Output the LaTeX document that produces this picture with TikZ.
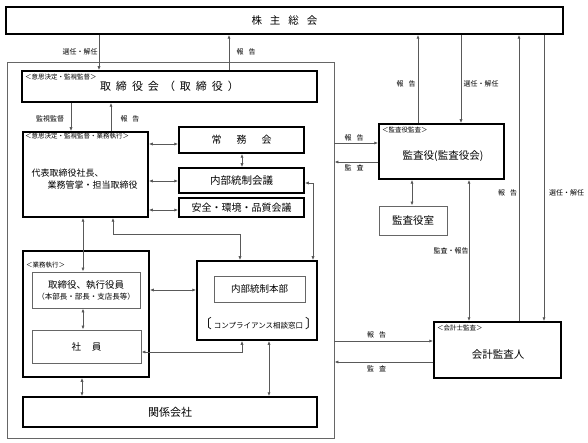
\documentclass[tikz,border=0pt]{standalone}
\usepackage{fontspec}
\setmainfont{Noto Sans CJK JP}
\usetikzlibrary{arrows.meta}

\begin{document}
\begin{tikzpicture}[x=1pt,y=-1pt,
    box/.style={draw=black,line width=1.5pt,inner sep=0pt},
    gbox/.style={draw=black!60,line width=0.9pt,inner sep=0pt},
    ln/.style={draw=black!65,line width=0.9pt},
    ar/.style={ln,-{Latex[length=4pt,width=3.2pt]}},
    dar/.style={ln,{Latex[length=4pt,width=3.2pt]}-{Latex[length=4pt,width=3.2pt]}},
    lbl/.style={font=\fontsize{7}{8}\selectfont,inner sep=0pt},
    tag/.style={font=\fontsize{6.5}{7}\selectfont,inner sep=0pt,anchor=west},
    txt/.style={font=\fontsize{10.5}{12}\selectfont,inner sep=0pt}]

    \useasboundingbox (0,0) rectangle (588,443);

    \node[box,minimum width=557pt,minimum height=27pt,font=\fontsize{10.5}{12}\selectfont] (GM) at (284.5,20.5) {株\hspace{8pt}主\hspace{8pt}総\hspace{8pt}会};
    \node[gbox,minimum width=327pt,minimum height=376pt] (CO) at (170.5,250) {};

    \node[box,minimum width=295pt,minimum height=31pt,font=\fontsize{11}{12}\selectfont] (BD) at (169.5,86.5) {取\hspace{5pt}締\hspace{5pt}役\hspace{5pt}会\hspace{5pt}（\hspace{5pt}取\hspace{5pt}締\hspace{5pt}役\hspace{5pt}）};
    \node[tag] (BDt) at (25,77) {＜意思決定・監視監督＞};

    \node[box,minimum width=125pt,minimum height=85pt] (RP) at (85.5,174.5) {};
    \node[tag] (RPt) at (25,136) {＜意思決定・監視監督・業務執行＞};
    \node[font=\fontsize{9}{12}\selectfont,align=left,inner sep=0pt] (RPx) at (84.5,179) {代表取締役社長、\\\hspace{16pt}業務管掌・担当取締役};

    \node[box,minimum width=125pt,minimum height=26pt,font=\fontsize{10}{12}\selectfont] (J) at (241.5,140) {常\hspace{15pt}務\hspace{15pt}会};
    \node[box,minimum width=125pt,minimum height=25pt,font=\fontsize{10.5}{12}\selectfont] (N) at (241.5,180.5) {内部統制会議};
    \node[box,minimum width=125pt,minimum height=19pt,font=\fontsize{10}{12}\selectfont] (S) at (241.5,207.5) {安全・環境・品質会議};

    \node[box,minimum width=126pt,minimum height=126pt] (E) at (86,314) {};
    \node[tag] (Et) at (26,265) {＜業務執行＞};
    \node[gbox,minimum width=108pt,minimum height=36pt,align=center,font=\fontsize{9.5}{11}\selectfont] (E1) at (86,290) {取締役、執行役員\\{\fontsize{7.5}{9}\selectfont （本部長・部長・支店長等）}};
    \node[gbox,minimum width=109pt,minimum height=33pt,font=\fontsize{9.5}{11}\selectfont] (E2) at (86.5,346.5) {社\hspace{11pt}員};

    \node[box,minimum width=120pt,minimum height=79pt] (H) at (257,300.5) {};
    \node[gbox,minimum width=91pt,minimum height=26pt,font=\fontsize{9.5}{11}\selectfont] (H1) at (259.5,289) {内部統制本部};
    \node[font=\fontsize{7.5}{9}\selectfont,inner sep=0pt] (H2) at (258.5,324) {{\fontsize{13}{13}\selectfont 〔}\hspace{2pt}コンプライアンス相談窓口\hspace{2pt}{\fontsize{13}{13}\selectfont 〕}};

    \node[box,minimum width=294pt,minimum height=30pt,font=\fontsize{11}{12}\selectfont] (K) at (170,412) {関係会社};

    \node[box,minimum width=125pt,minimum height=55pt] (A) at (441.5,151.5) {};
    \node[tag] (At) at (382,130) {＜監査役監査＞};
    \node[txt] (Ax) at (443,156) {監査役(監査役会)};
    \node[gbox,minimum width=68pt,minimum height=29pt,font=\fontsize{10.5}{12}\selectfont] (A1) at (413,220.5) {監査役室};

    \node[box,minimum width=127pt,minimum height=56pt] (C) at (497.5,350) {};
    \node[tag] (Ct) at (437,328) {＜会計士監査＞};
    \node[txt] (Cx) at (498,355) {会計監査人};

    \draw[ar] (GM.south -| 99,0) -- (BD.north -| 99,0);
    \draw[ar] (BD.north -| 229,0) -- (GM.south -| 229,0);
    \draw[ar] (BD.south -| 71,0) -- (RP.north -| 71,0);
    \draw[ar] (RP.north -| 111,0) -- (BD.south -| 111,0);

    \draw[dar] (RP.east |- 0,144) -- (J.west |- 0,144);
    \draw[dar] (RP.east |- 0,181) -- (N.west |- 0,181);
    \draw[dar] (RP.east |- 0,210) -- (S.west |- 0,210);
    \draw[dar] (J.south -| 242,0) -- (N.north -| 242,0);
    \draw[dar] (N.east |- 0,183) -| (H.north -| 313,0);
    \draw[dar] (RP.south -| 113,0) -- ++(0,17) -| (H.north -| 240,0);
    \draw[dar] (RP.south -| 83,0) -- (E1.north -| 83,0);
    \draw[dar] (E1.south -| 83,0) -- (E2.north -| 83,0);
    \draw[dar] (E.east |- 0,290) -- (H.west |- 0,290);
    \draw[dar] (E2.east |- 0,352) -| (H.south -| 242,0);
    \draw[dar] (H.south -| 269,0) -- (K.north -| 269,0);
    \draw[dar] (E.south -| 82,0) -- (K.north -| 82,0);

    \draw[ar] (CO.east |- 0,143) -- (A.west |- 0,143);
    \draw[ar] (A.west |- 0,162) -- (CO.east |- 0,162);
    \draw[dar] (A.south -| 412,0) -- (A1.north -| 412,0);
    \draw[dar] (A.south -| 469,0) -- (C.north -| 469,0);
    \draw[ar] (A.north -| 418,0) -- (GM.south -| 418,0);
    \draw[ar] (GM.south -| 461,0) -- (A.north -| 461,0);
    \draw[ar] (C.north -| 519,0) -- (GM.south -| 519,0);
    \draw[ar] (GM.south -| 544,0) -- (C.north -| 544,0);
    \draw[ar] (CO.east |- 0,341) -- (C.west |- 0,341);
    \draw[ar] (C.west |- 0,362) -- (CO.east |- 0,362);

    \node[lbl] (l1) at (80,52) {選任・解任};
    \node[lbl] (l2) at (246,52) {報\hspace{5pt}告};
    \node[lbl] (l3) at (50,119) {監視監督};
    \node[lbl] (l4) at (130,119) {報\hspace{5pt}告};
    \node[lbl] (l5) at (406,84) {報\hspace{5pt}告};
    \node[lbl] (l6) at (481,84) {選任・解任};
    \node[lbl] (l7) at (354,138) {報\hspace{5pt}告};
    \node[lbl] (l8) at (354,168) {監\hspace{5pt}査};
    \node[lbl] (l9) at (451,251) {監査・報告};
    \node[lbl] (l10) at (507.5,193) {報\hspace{5pt}告};
    \node[lbl] (l11) at (566.5,193) {選任・解任};
    \node[lbl] (l12) at (376.5,335) {報\hspace{5pt}告};
    \node[lbl] (l13) at (376.5,369) {監\hspace{5pt}査};

\end{tikzpicture}
\end{document}
